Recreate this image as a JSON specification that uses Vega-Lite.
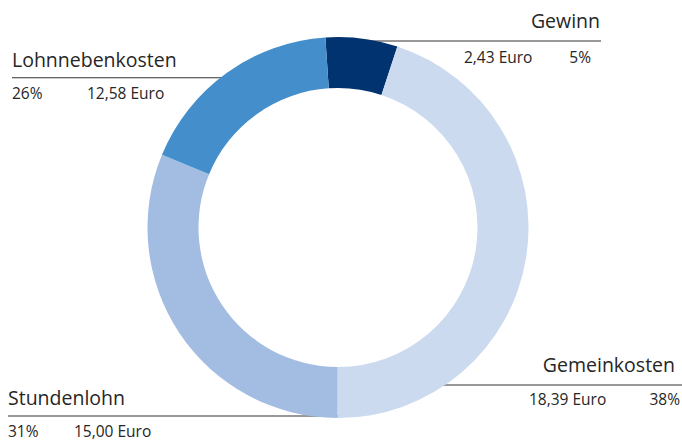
{
  "$schema": "https://vega.github.io/schema/vega-lite/v6.json",
  "width": 676,
  "height": 429,
  "autosize": {"type": "none"},
  "padding": {"left": 0, "top": 13, "right": 6, "bottom": 0},
  "background": "white",
  "config": {
    "view": {"stroke": null},
    "locale": {"number": {"decimal": ",", "thousands": ".", "grouping": [3], "currency": ["", " Euro"]}},
    "text": {"font": "Open Sans", "color": "#262626", "baseline": "alphabetic"}
  },
  "data": {
    "values": [
      {"Nr": 1, "Kategorie": "Gewinn", "Euro": 2.43, "Prozent": 0.05, "Anteil": 6.1},
      {"Nr": 2, "Kategorie": "Gemeinkosten", "Euro": 18.39, "Prozent": 0.38, "Anteil": 45.0},
      {"Nr": 3, "Kategorie": "Stundenlohn", "Euro": 15.00, "Prozent": 0.31, "Anteil": 31.2},
      {"Nr": 4, "Kategorie": "Lohnnebenkosten", "Euro": 12.58, "Prozent": 0.26, "Anteil": 17.7}
    ]
  },
  "resolve": {"scale": {"x": "independent", "y": "independent"}},
  "layer": [
    {
      "mark": {"type": "rule", "color": "#333333", "strokeWidth": 1.1},
      "encoding": {
        "x": {"field": "Nr", "type": "quantitative", "axis": null,
              "scale": {"domain": [1, 2, 3, 4], "range": [601, 682, 8, 12], "nice": false, "zero": false}},
        "x2": {"value": {"expr": "width/2"}},
        "y": {"field": "Nr", "type": "quantitative", "axis": null,
              "scale": {"domain": [1, 2, 3, 4], "range": [28, 372, 403, 64.7], "nice": false, "zero": false}}
      }
    },
    {
      "mark": {"type": "arc", "outerRadius": 190.5, "innerRadius": 139.5},
      "encoding": {
        "theta": {"field": "Anteil", "type": "quantitative", "stack": true,
                  "scale": {"domain": [0, 100], "range": [-0.0663, 6.2169]}},
        "order": {"field": "Nr", "type": "quantitative"},
        "color": {"field": "Kategorie", "type": "nominal", "legend": null,
                  "scale": {"domain": ["Gewinn", "Gemeinkosten", "Stundenlohn", "Lohnnebenkosten"],
                            "range": ["#00336f", "#cbdaef", "#a3bde2", "#448fcb"]}}
      }
    },
    {
      "transform": [{"filter": {"field": "Nr", "oneOf": [1, 2]}}],
      "mark": {"type": "text", "align": "right", "fontSize": 19.5},
      "encoding": {
        "text": {"field": "Kategorie"},
        "x": {"field": "Nr", "type": "quantitative", "axis": null,
              "scale": {"domain": [1, 2], "range": [600, 675], "nice": false, "zero": false}},
        "y": {"field": "Nr", "type": "quantitative", "axis": null,
              "scale": {"domain": [1, 2], "range": [15, 359], "nice": false, "zero": false}}
      }
    },
    {
      "transform": [{"filter": {"field": "Nr", "oneOf": [3, 4]}}],
      "mark": {"type": "text", "align": "left", "fontSize": 19.5},
      "encoding": {
        "text": {"field": "Kategorie"},
        "x": {"field": "Nr", "type": "quantitative", "axis": null,
              "scale": {"domain": [3, 4], "range": [8, 12], "nice": false, "zero": false}},
        "y": {"field": "Nr", "type": "quantitative", "axis": null,
              "scale": {"domain": [3, 4], "range": [392, 54], "nice": false, "zero": false}}
      }
    },
    {
      "mark": {"type": "text", "align": "left", "fontSize": 15.5},
      "encoding": {
        "text": {"field": "Euro", "type": "quantitative", "format": "$.2f"},
        "x": {"field": "Nr", "type": "quantitative", "axis": null,
              "scale": {"domain": [1, 2, 3, 4], "range": [464, 529, 74, 87], "nice": false, "zero": false}},
        "y": {"field": "Nr", "type": "quantitative", "axis": null,
              "scale": {"domain": [1, 2, 3, 4], "range": [50, 392, 423.5, 86], "nice": false, "zero": false}}
      }
    },
    {
      "transform": [{"filter": {"field": "Nr", "oneOf": [1, 2]}}],
      "mark": {"type": "text", "align": "right", "fontSize": 15.5},
      "encoding": {
        "text": {"field": "Prozent", "type": "quantitative", "format": ".0%"},
        "x": {"field": "Nr", "type": "quantitative", "axis": null,
              "scale": {"domain": [1, 2], "range": [591, 680], "nice": false, "zero": false}},
        "y": {"field": "Nr", "type": "quantitative", "axis": null,
              "scale": {"domain": [1, 2], "range": [50, 392], "nice": false, "zero": false}}
      }
    },
    {
      "transform": [{"filter": {"field": "Nr", "oneOf": [3, 4]}}],
      "mark": {"type": "text", "align": "left", "fontSize": 15.5},
      "encoding": {
        "text": {"field": "Prozent", "type": "quantitative", "format": ".0%"},
        "x": {"field": "Nr", "type": "quantitative", "axis": null,
              "scale": {"domain": [3, 4], "range": [8, 12], "nice": false, "zero": false}},
        "y": {"field": "Nr", "type": "quantitative", "axis": null,
              "scale": {"domain": [3, 4], "range": [423.5, 86], "nice": false, "zero": false}}
      }
    }
  ]
}
